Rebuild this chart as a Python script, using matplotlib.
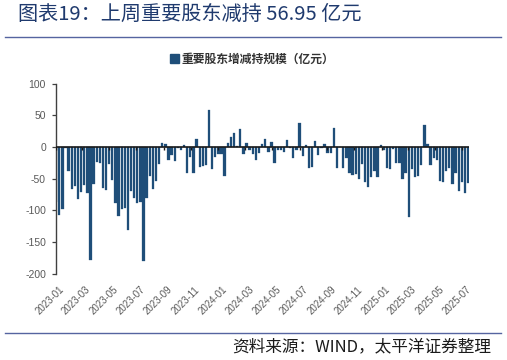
import matplotlib
matplotlib.use("Agg")
import matplotlib.pyplot as plt
import matplotlib.dates as mdates
from matplotlib.patches import Patch
from matplotlib.lines import Line2D
from matplotlib.transforms import blended_transform_factory, offset_copy
import pandas as pd

plt.rcParams['font.family'] = ['Noto Sans CJK SC', 'DejaVu Sans']
plt.rcParams['axes.unicode_minus'] = False

# ---- data ----
start_date = "2023-01-02"
values = [
    -87, -107, -98, -2, -38, -67, -62, -83, -71, -60,
    -73, -178, -59, -24, -26, -65, -68, -27, -53, -88,
    -109, -98, -96, -132, -69, -80, -88, -87, -180, -80,
    -46, -67, -54, -27, 6, 4, -20, -13, -22, -1,
    -5, 3, -41, -16, -42, 13, -32, -30, -29, 59,
    -35, -16, -12, -12, -46, 6, 15, 22, 1, 29,
    -12, 6, -5, -12, -21, -9, 5, 13, -8, 8,
    -25, -5, -5, -8, 11, -2, -18, -5, 38, -14,
    3, -34, -32, 9, -13, -2, 4, -9, -10, 30,
    -33, 0, -33, -17, -41, -45, -43, -51, -27, -56,
    -64, -47, -38, -48, 3, -5, -33, -35, -3, -25,
    -26, -51, -42, -110, -35, -48, -46, -28, 35, 5,
    -28, -18, -20, -54, -55, -38, -33, -59, -41, -70,
    -55, -73, -56.95,
]
dates = pd.date_range(start_date, periods=len(values), freq="7D")
tick_labels = ["2023-01", "2023-03", "2023-05", "2023-07", "2023-09", "2023-11",
               "2024-01", "2024-03", "2024-05", "2024-07", "2024-09", "2024-11",
               "2025-01", "2025-03", "2025-05", "2025-07"]
y_ticks = [-200, -150, -100, -50, 0, 50, 100]
title = "图表19：上周重要股东减持 56.95 亿元"
legend_label = "重要股东增减持规模（亿元）"
source = "资料来源：WIND，太平洋证券整理"

bar_color = "#1F4E79"
title_color = "#1F3A6E"
line_color = "#5564A0"

W, H = 507, 360
fig = plt.figure(figsize=(W / 100, H / 100), dpi=100)

ax_left, ax_right = 55.7, 469.4
ax_top, ax_bottom = 83.6, 273.5
ax = fig.add_axes([ax_left / W, 1 - ax_bottom / H, (ax_right - ax_left) / W, (ax_bottom - ax_top) / H])

ax.bar(dates, values, width=5.2, color=bar_color, edgecolor=bar_color, linewidth=0.2, zorder=2)

ax.set_xlim(pd.Timestamp("2023-01-01"), pd.Timestamp("2025-07-17"))
ax.set_ylim(-200, 100)

for s in ["top", "right", "bottom"]:
    ax.spines[s].set_visible(False)
ax.spines["left"].set_color("#404040")
ax.spines["left"].set_linewidth(1.0)

ax.set_yticks(y_ticks)
ax.set_yticklabels([str(v) for v in y_ticks])
ax.tick_params(axis="y", direction="out", length=3, width=0.9, color="#404040",
               labelsize=7.5, labelcolor="#595959", pad=4)
for lab in ax.get_yticklabels():
    lab.set_fontfamily(["Liberation Sans", "DejaVu Sans"])

# zero axis line with tick marks
ax.axhline(0, color="#1a1a1a", lw=1.2, zorder=3)
tick_dates = [pd.Timestamp(t + "-01") for t in tick_labels]
ax.set_xticks([])
ax.vlines(tick_dates, -5, 0, color="#1a1a1a", lw=1.0, zorder=3)

trans = blended_transform_factory(ax.transData, ax.transAxes)
trans = offset_copy(trans, fig=fig, x=3.5, y=-11, units="dots")
for d, t in zip(tick_dates, tick_labels):
    ax.text(d, 0, t, transform=trans, rotation=45, ha="right", va="top",
            rotation_mode="anchor", fontsize=7, color="#595959",
            fontfamily=["Liberation Sans", "DejaVu Sans"])

# legend
handle = Patch(facecolor=bar_color, edgecolor=bar_color)
fig.legend([handle], [legend_label], loc="center", bbox_to_anchor=(252.4 / W, 1 - 59 / H),
           frameon=False, fontsize=8.5, handlelength=0.75, handleheight=0.75,
           handletextpad=0.25, borderpad=0, prop={"weight": "bold", "size": 8.5})
for txt in fig.legends[0].get_texts():
    txt.set_color("#333333")

# title and lines
fig.text(18 / W, 1 - 14.5 / H, title, fontsize=14.5, color=title_color, ha="left", va="center")
fig.add_artist(Line2D([5 / W, 501 / W], [1 - 37.3 / H, 1 - 37.3 / H], color=line_color, lw=1.0))
fig.add_artist(Line2D([5 / W, 501 / W], [1 - 332.7 / H, 1 - 332.7 / H], color=line_color, lw=1.0))
fig.text(491.7 / W, 1 - 347 / H, source, fontsize=12, ha="right", va="center",
         color="#1a1a1a", style="italic")

fig.savefig("out.png", dpi=100)
